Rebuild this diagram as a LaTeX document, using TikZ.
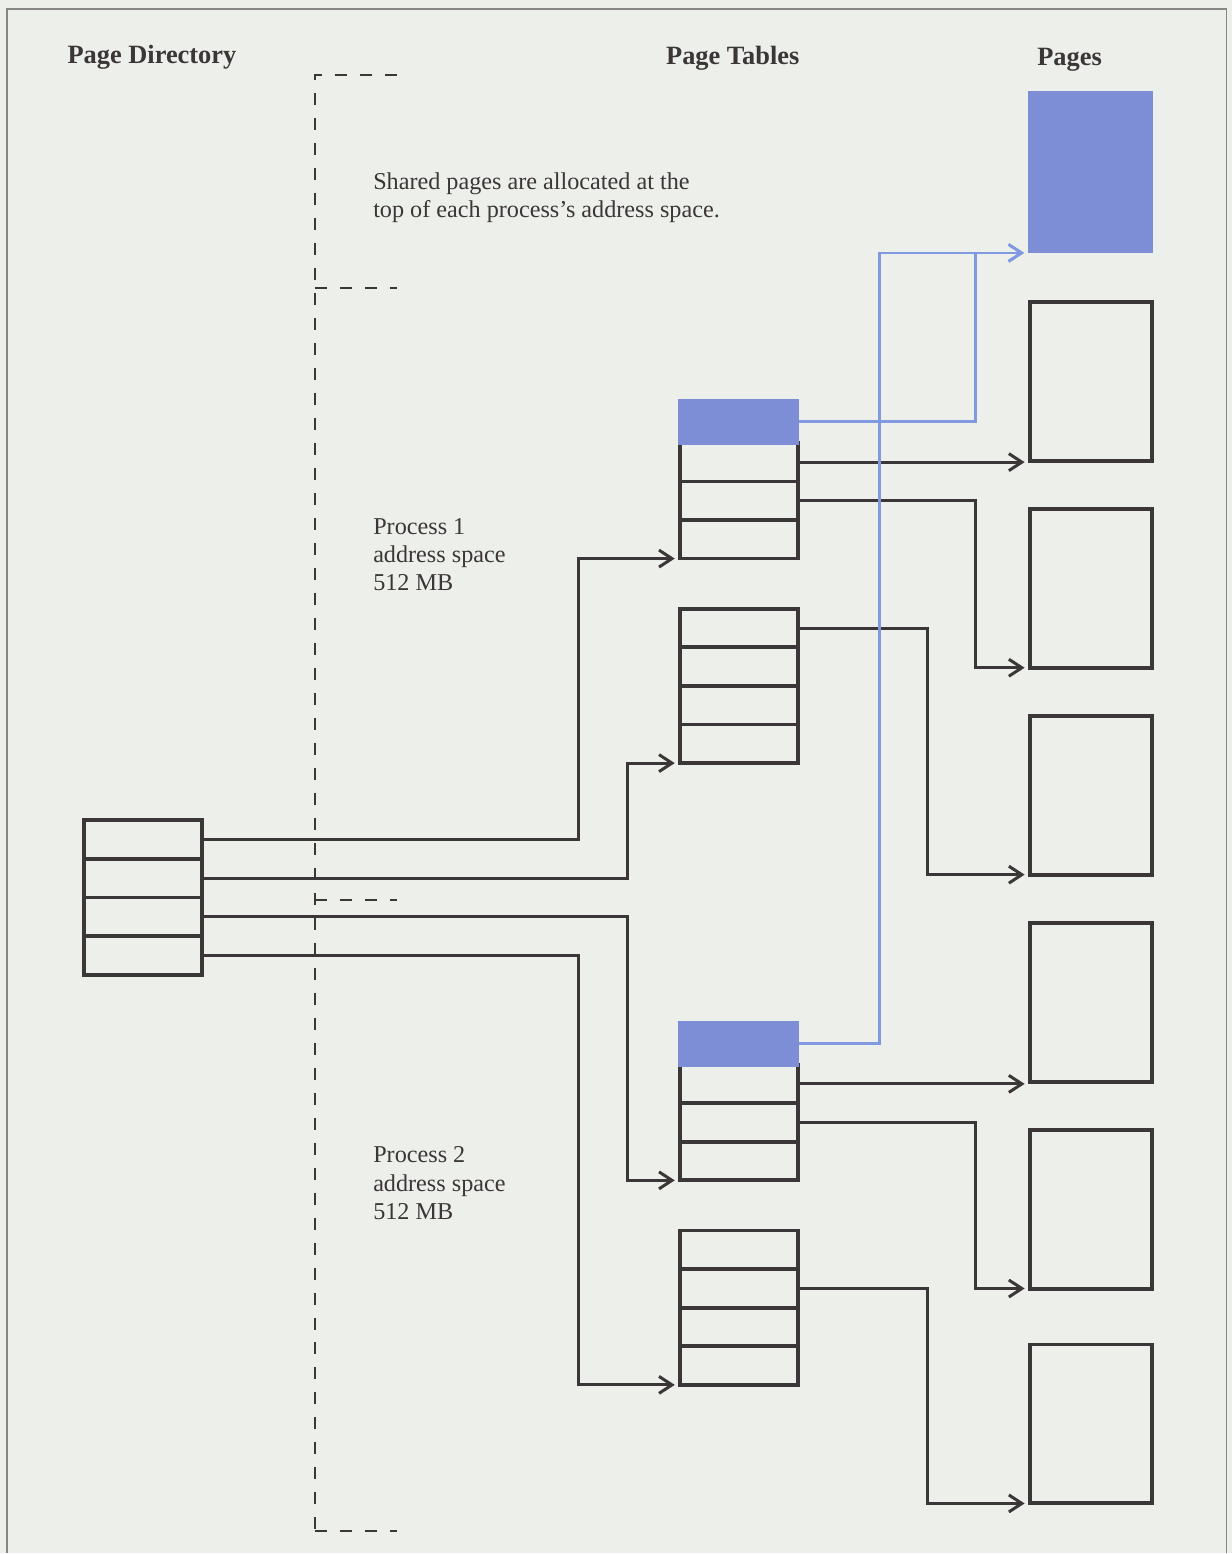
\documentclass[tikz,border=0pt]{standalone}
\usepackage{fontspec}
\setmainfont{Liberation Serif}
\usetikzlibrary{arrows.meta,calc,positioning}
\usepackage{xcolor}

\definecolor{paper}{HTML}{EDEFEB}
\definecolor{ink}{HTML}{3B3637}
\definecolor{shared}{HTML}{7D8ED6}
\definecolor{sharedline}{HTML}{8099E0}

\tikzset{
    cell/.style={draw=ink, line width=1.9pt, minimum width=59pt, minimum height=19.3pt, inner sep=0pt, outer sep=0pt},
    sharedcell/.style={fill=shared, minimum width=60.5pt, minimum height=23pt, inner sep=0pt, outer sep=0pt},
    page/.style={draw=ink, line width=2pt, minimum width=61pt, minimum height=79.5pt, inner sep=0pt, outer sep=0pt},
    sharedpage/.style={fill=shared, minimum width=62.5pt, minimum height=81pt, inner sep=0pt, outer sep=0pt},
    link/.style={draw=ink, line width=1.5pt, -{Straight Barb[length=6.5pt,width=8.5pt]}, shorten >=2.5pt},
    sharedlink/.style={draw=sharedline, line width=1.4pt, -{Straight Barb[length=6.5pt,width=8.5pt]}, shorten >=2pt},
    divider/.style={draw=ink, line width=1pt, dash pattern=on 6pt off 6.5pt},
    title/.style={font=\bfseries\fontsize{13.2}{15}\selectfont, text=ink, inner sep=0pt, anchor=base},
    note/.style={font=\fontsize{12.1}{14.2}\selectfont, text=ink, align=left, inner sep=0pt, anchor=base west}
}

\begin{document}
\begin{tikzpicture}[x=0.5pt, y=-0.5pt]
    % Latar dan bingkai
    \fill[paper] (0,0) rectangle (1232,1554);
    \draw[ink!60, line width=0.6pt] (7,1554) -- (7,9) -- (1227,9) -- (1227,1554);

    % Judul kolom
    \node[title] (tdir) at (152,64) {Page Directory};
    \node[title] (ttab) at (733,65) {Page Tables};
    \node[title] (tpag) at (1070,66) {Pages};

    % Batas ruang alamat
    \draw[divider] (397,75) -- (315,75) -- (315,1532);
    \draw[divider] (315,288) -- (397,288);
    \draw[divider] (315,900) -- (397,900);
    \draw[divider] (315,1532) -- (397,1532);

    % Keterangan
    \node[note] (nshared) at (373,218) {Shared pages are allocated at the\\top of each process’s address space.};
    \node[note] (nproc1) at (373,591) {Process 1\\address space\\512 MB};
    \node[note] (nproc2) at (373,1220) {Process 2\\address space\\512 MB};

    % Page directory
    \node[cell] (pd1) at (143,840) {};
    \node[cell, below=0pt of pd1] (pd2) {};
    \node[cell, below=0pt of pd2] (pd3) {};
    \node[cell, below=0pt of pd3] (pd4) {};

    % Page tables proses 1
    \node[cell] (pt1b) at (739,462.3) {};
    \node[cell, below=0pt of pt1b] (pt1c) {};
    \node[cell, below=0pt of pt1c] (pt1d) {};
    \node[sharedcell, above=-1pt of pt1b] (pt1a) {};
    \node[cell] (pt2a) at (739,628.3) {};
    \node[cell, below=0pt of pt2a] (pt2b) {};
    \node[cell, below=0pt of pt2b] (pt2c) {};
    \node[cell, below=0pt of pt2c] (pt2d) {};

    % Page tables proses 2
    \node[cell] (pt3b) at (739,1084.3) {};
    \node[cell, below=0pt of pt3b] (pt3c) {};
    \node[cell, below=0pt of pt3c] (pt3d) {};
    \node[sharedcell, above=-1pt of pt3b] (pt3a) {};
    \node[cell] (pt4a) at (739,1250.3) {};
    \node[cell, below=0pt of pt4a] (pt4b) {};
    \node[cell, below=0pt of pt4b] (pt4c) {};
    \node[cell, below=0pt of pt4c] (pt4d) {};

    % Pages
    \node[page] (pg1) at (1091,381.5) {};
    \node[sharedpage, above=24.5pt of pg1] (pg0) {};
    \node[page, below=24pt of pg1] (pg2) {};
    \node[page, below=24pt of pg2] (pg3) {};
    \node[page, below=24pt of pg3] (pg4) {};
    \node[page, below=24pt of pg4] (pg5) {};
    \node[page, below=28pt of pg5] (pg6) {};

    % Jalur belokan
    \coordinate (busA) at (579,0);
    \coordinate (busB) at (628,0);
    \coordinate (busS) at (880,0);
    \coordinate (busD) at (928,0);
    \coordinate (busE) at (976,0);

    % Directory ke page tables
    \draw[link] (pd1.east) -| (busA |- pt1d.south) -- (pt1d.south west);
    \draw[link] (pd2.east) -| (busB |- pt2d.south) -- (pt2d.south west);
    \draw[link] (pd3.east) -| (busB |- pt3d.south) -- (pt3d.south west);
    \draw[link] (pd4.east) -| (busA |- pt4d.south) -- (pt4d.south west);

    % Page tables ke pages
    \draw[link] (pt1b.east) -- (pt1b.east -| pg1.west);
    \draw[link] (pt1c.east) -| (busE |- pg2.south) -- (pg2.south west);
    \draw[link] (pt2a.east) -| (busD |- pg3.south) -- (pg3.south west);
    \draw[link] (pt3b.east) -- (pt3b.east -| pg4.west);
    \draw[link] (pt3c.east) -| (busE |- pg5.south) -- (pg5.south west);
    \draw[link] (pt4b.east) -| (busD |- pg6.south) -- (pg6.south west);

    % Halaman bersama
    \draw[sharedlink] (pt1a.east) -| (busE |- pg0.south) -- (pg0.south west);
    \draw[sharedlink] (pt3a.east) -| (busS |- pg0.south) -- (pg0.south west);
\end{tikzpicture}
\end{document}
